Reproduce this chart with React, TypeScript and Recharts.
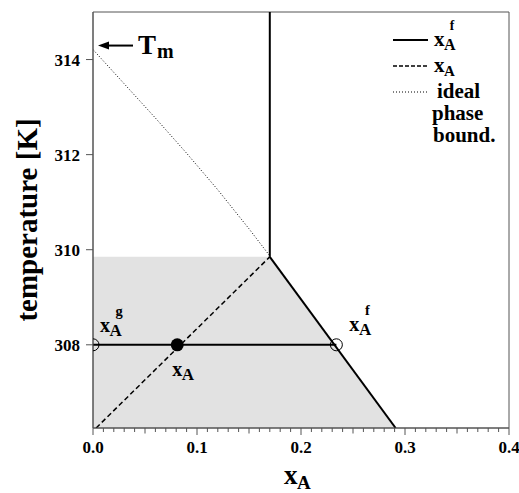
import React from 'react';
import { ComposedChart, Line, Area, Scatter, XAxis, YAxis, ReferenceArea, ReferenceDot } from 'recharts';

const FONT = "'Liberation Serif', 'Times New Roman', serif";
const AXIS = '#555';

// ticks
const xTicks = [
  0, 0.01, 0.02, 0.03, 0.04, 0.05, 0.06, 0.07, 0.08, 0.09,
  0.1, 0.11, 0.12, 0.13, 0.14, 0.15, 0.16, 0.17, 0.18, 0.19,
  0.2, 0.21, 0.22, 0.23, 0.24, 0.25, 0.26, 0.27, 0.28, 0.29,
  0.3, 0.31, 0.32, 0.33, 0.34, 0.35, 0.36, 0.37, 0.38, 0.39, 0.4,
];
const xMajorTicks = [0, 0.1, 0.2, 0.3, 0.4];
const yTicks = [308, 310, 312, 314];

// phase diagram curves
const shadedRegion = [
  { x: 0, y: 309.85 },
  { x: 0.17, y: 309.85 },
  { x: 0.291, y: 306.25 },
];
const liquidusVertical = [
  { x: 0.17, y: 309.85 },
  { x: 0.17, y: 315 },
];
const liquidusSlope = [
  { x: 0.17, y: 309.85 },
  { x: 0.291, y: 306.25 },
];
const tieLine = [
  { x: 0, y: 308 },
  { x: 0.234, y: 308 },
];
const xALine = [
  { x: 0.003, y: 306.25 },
  { x: 0.17, y: 309.85 },
];
const idealBound = [
  { x: 0, y: 314.21 },
  { x: 0.03, y: 313.49 },
  { x: 0.06, y: 312.77 },
  { x: 0.09, y: 312.03 },
  { x: 0.12, y: 311.26 },
  { x: 0.15, y: 310.44 },
  { x: 0.17, y: 309.87 },
];
const openPoints = [
  { x: 0, y: 308 },
  { x: 0.234, y: 308 },
];
const filledPoints = [{ x: 0.081, y: 308 }];
const meltingPoint = { x: 0, y: 314.21 };

const XSub = ({ x, y, size, subSize, sup, supDx = 0, supDy = 0 }: any) => (
  <g fontFamily={FONT} fontWeight="bold" fill="#000">
    <text x={x} y={y} fontSize={size}>x</text>
    <text x={x + size * 0.48} y={y + size * 0.2} fontSize={subSize}>A</text>
    {sup && (
      <text x={x + size * 0.48 + subSize * 0.35 + supDx} y={y - size * 0.72 + supDy} fontSize={subSize * 0.85}>
        {sup}
      </text>
    )}
  </g>
);

const XTick = ({ x, y, payload }: any) => {
  const v = payload.value;
  const major = xMajorTicks.some((t) => Math.abs(t - v) < 1e-6);
  const half = !major && Math.abs(v * 20 - Math.round(v * 20)) < 1e-6;
  const len = major ? 7 : half ? 5.5 : 4;
  return (
    <g>
      <line x1={x} x2={x} y1={y} y2={y + len} stroke={AXIS} strokeWidth={1} />
      {major && (
        <text x={x} y={y + 13} dy="0.71em" textAnchor="middle" fontFamily={FONT} fontWeight="bold" fontSize={17} fill="#000">
          {v.toFixed(1)}
        </text>
      )}
    </g>
  );
};

export default function App() {
  return (
    <div style={{ position: 'absolute', left: 0, top: 0, width: 519, height: 493, background: '#fff' }}>
      <ComposedChart width={519} height={493} margin={{ top: 12, right: 10, bottom: 0, left: 0 }}>
        <XAxis
          type="number"
          dataKey="x"
          domain={[0, 0.4]}
          ticks={xTicks}
          interval={0}
          allowDataOverflow
          height={65}
          stroke={AXIS}
          tickLine={false}
          tickSize={0}
          tickMargin={0}
          tick={<XTick />}
        />
        <YAxis
          type="number"
          dataKey="y"
          domain={[306.25, 315]}
          ticks={yTicks}
          interval={0}
          allowDataOverflow
          width={93}
          stroke={AXIS}
          tickSize={7}
          tickMargin={6}
          tick={{ fontFamily: FONT, fontWeight: 'bold', fontSize: 17, fill: '#000' }}
        />
        <Area
          data={shadedRegion}
          dataKey="y"
          type="linear"
          fill="#e2e2e2"
          fillOpacity={1}
          stroke="none"
          isAnimationActive={false}
        />
        <ReferenceArea x1={0} x2={0.4} y1={306.25} y2={315} fill="none" stroke={AXIS} ifOverflow="visible" />
        <Line data={idealBound} dataKey="y" type="linear" stroke="#000" strokeWidth={1} strokeDasharray="1 2" dot={false} isAnimationActive={false} />
        <Line data={xALine} dataKey="y" type="linear" stroke="#000" strokeWidth={1.5} strokeDasharray="5 3" dot={false} isAnimationActive={false} />
        <Line data={liquidusVertical} dataKey="y" type="linear" stroke="#000" strokeWidth={2} dot={false} isAnimationActive={false} />
        <Line data={liquidusSlope} dataKey="y" type="linear" stroke="#000" strokeWidth={2} dot={false} isAnimationActive={false} />
        <Line data={tieLine} dataKey="y" type="linear" stroke="#000" strokeWidth={2} dot={false} isAnimationActive={false} />
        <Scatter
          data={openPoints}
          dataKey="y"
          isAnimationActive={false}
          shape={(p: any) => <circle cx={p.cx} cy={p.cy} r={6} fill="none" stroke="#000" strokeWidth={1} />}
        />
        <Scatter
          data={filledPoints}
          dataKey="y"
          isAnimationActive={false}
          shape={(p: any) => <circle cx={p.cx} cy={p.cy} r={6.5} fill="#000" />}
        />
        <ReferenceDot
          x={openPoints[0].x}
          y={openPoints[0].y}
          ifOverflow="visible"
          shape={(p: any) => <XSub x={p.cx + 7} y={p.cy - 13} size={20} subSize={17} sup="g" supDy={-1} />}
        />
        <ReferenceDot
          x={filledPoints[0].x}
          y={filledPoints[0].y}
          ifOverflow="visible"
          shape={(p: any) => <XSub x={p.cx - 5} y={p.cy + 31} size={20} subSize={17} />}
        />
        <ReferenceDot
          x={openPoints[1].x}
          y={openPoints[1].y}
          ifOverflow="visible"
          shape={(p: any) => <XSub x={p.cx + 13} y={p.cy - 14} size={20} subSize={17} sup="f" supDy={-1} />}
        />
        <ReferenceDot
          x={meltingPoint.x}
          y={meltingPoint.y}
          ifOverflow="visible"
          shape={(p: any) => (
            <g>
              <line x1={p.cx + 12} x2={p.cx + 40} y1={p.cy - 4} y2={p.cy - 4} stroke="#000" strokeWidth={2} />
              <path d={`M${p.cx + 5},${p.cy - 4} L${p.cx + 16},${p.cy - 8} L${p.cx + 16},${p.cy} Z`} fill="#000" />
              <text x={p.cx + 45} y={p.cy + 4} fontFamily={FONT} fontWeight="bold" fontSize={27}>T</text>
              <text x={p.cx + 64} y={p.cy + 8} fontFamily={FONT} fontWeight="bold" fontSize={20}>m</text>
            </g>
          )}
        />
      </ComposedChart>
      <svg width={519} height={493} style={{ position: 'absolute', left: 0, top: 0, pointerEvents: 'none' }}>
        {/* axis titles */}
        <text
          transform="translate(37,220) rotate(-90)"
          textAnchor="middle"
          fontFamily={FONT}
          fontWeight="bold"
          fontSize={29}
        >
          temperature [K]
        </text>
        <XSub x={284} y={484} size={27} subSize={19} />
        {/* legend */}
        <line x1={393} x2={428} y1={40} y2={40} stroke="#000" strokeWidth={2} />
        <line x1={393} x2={428} y1={66} y2={66} stroke="#000" strokeWidth={1.5} strokeDasharray="4 2" />
        <line x1={393} x2={428} y1={92} y2={92} stroke="#000" strokeWidth={1} strokeDasharray="1 2" />
        <XSub x={434} y={46} size={21} subSize={16} sup="f" supDy={-1} />
        <XSub x={434} y={72} size={21} subSize={15} />
        <g fontFamily={FONT} fontWeight="bold" fontSize={21}>
          <text x={437} y={98}>ideal</text>
          <text x={432} y={120}>phase</text>
          <text x={433} y={142}>bound.</text>
        </g>
      </svg>
    </div>
  );
}
